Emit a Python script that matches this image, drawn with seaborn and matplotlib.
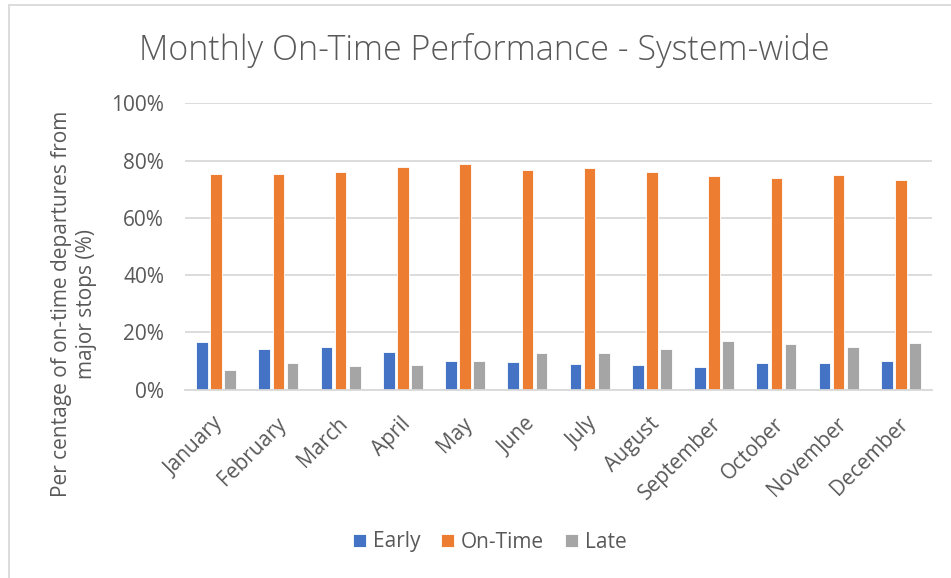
import matplotlib
matplotlib.use("Agg")
import matplotlib.pyplot as plt
import matplotlib.transforms as mtransforms
from matplotlib.patches import Rectangle
from matplotlib.ticker import PercentFormatter
import numpy as np
import pandas as pd
import seaborn as sns

months = ["January", "February", "March", "April", "May", "June", "July",
          "August", "September", "October", "November", "December"]
early = [16.6, 14.3, 14.9, 13.0, 10.2, 9.7, 9.1, 8.8, 7.9, 9.4, 9.3, 10.0]
on_time = [75.4, 75.3, 76.1, 77.8, 79.0, 76.8, 77.3, 76.1, 74.5, 74.0, 75.0, 73.1]
late = [7.0, 9.4, 8.3, 8.5, 9.9, 12.8, 12.8, 14.2, 16.9, 15.9, 14.9, 16.2]
series = ["Early", "On-Time", "Late"]
colors = ["#4472C4", "#ED7D31", "#A5A5A5"]

df = pd.DataFrame({"Month": months, "Early": early, "On-Time": on_time, "Late": late})
df = df.melt(id_vars="Month", var_name="Status", value_name="Pct")
df["Pct"] = df["Pct"] / 100

sns.set_theme(style="white")
plt.rcParams["font.family"] = ["Open Sans", "DejaVu Sans"]
text_c = "#595959"
grid_c = "#D9D9D9"

fig = plt.figure(figsize=(9.51, 5.78), dpi=100)
ax = fig.add_axes([185 / 951, 1 - 389.7 / 578, 747 / 951, 286.2 / 578])

sns.barplot(data=df, x="Month", y="Pct", hue="Status", hue_order=series,
            palette=colors, width=0.68, gap=0.18, ax=ax,
            edgecolor="white", linewidth=0.6, saturation=1, errorbar=None)

ax.set_ylim(0, 1)
ax.set_yticks(np.arange(0, 1.01, 0.2))
ax.yaxis.set_major_formatter(PercentFormatter(1.0, decimals=0))
ax.set_xlim(-0.5, len(months) - 0.5)
ax.grid(axis="y", color=grid_c, linewidth=1.3)
ax.set_axisbelow(True)
for side in ["top", "right", "left"]:
    ax.spines[side].set_visible(False)
ax.spines["bottom"].set_color(grid_c)
ax.spines["bottom"].set_linewidth(1.3)
ax.tick_params(axis="both", length=0, labelsize=15, labelcolor=text_c)
ax.tick_params(axis="y", pad=15)
ax.tick_params(axis="x", pad=17)
ax.set_xlabel("")

offset = mtransforms.ScaledTranslation(-3 / 100, 0, fig.dpi_scale_trans)
for lbl in ax.get_xticklabels():
    lbl.set_rotation(45)
    lbl.set_ha("right")
    lbl.set_va("top")
    lbl.set_rotation_mode("anchor")
    lbl.set_transform(lbl.get_transform() + offset)

ax.set_ylabel("Per centage of on-time departures from\nmajor stops (%)",
              fontsize=15, color=text_c, va="center", linespacing=1.2)
ax.yaxis.set_label_coords((74 - 185) / 747, (389.7 - 304) / 286.2)

fig.text(484 / 951, 1 - 50 / 578, "Monthly On-Time Performance - System-wide",
         ha="center", va="center", fontsize=24.5, color=text_c, fontweight="light")

handles, labels = ax.get_legend_handles_labels()
ax.legend_.remove()
fig.legend(handles, labels, loc="center", bbox_to_anchor=(490 / 951, 1 - 542 / 578),
           ncol=3, frameon=False, fontsize=15, labelcolor=text_c,
           handlelength=0.6, handleheight=0.6, handletextpad=0.35, columnspacing=1.0)

fig.patches.append(Rectangle((9 / 951, -0.1), 1.1, 1 - 5 / 578 + 0.1,
                             transform=fig.transFigure, fill=False,
                             edgecolor=grid_c, linewidth=1.3))

fig.savefig("out.png", dpi=100)
